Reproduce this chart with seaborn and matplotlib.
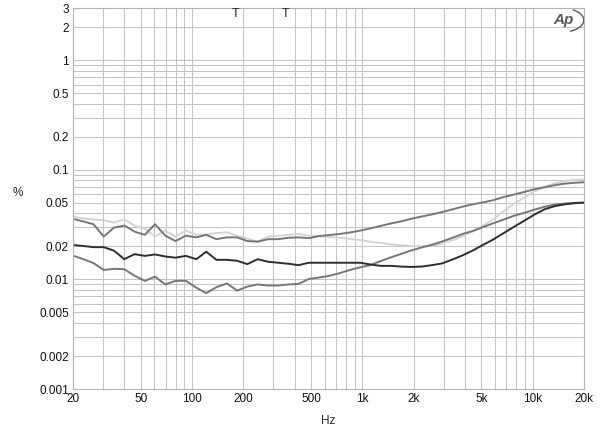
import pandas as pd
import matplotlib
matplotlib.use("Agg")
import matplotlib.pyplot as plt
import seaborn as sns
from matplotlib.ticker import FixedLocator, NullFormatter, LogLocator
from matplotlib.patches import Arc

# частоты (Гц), общие для всех кривых
freq = [20, 23, 26.4, 30.3, 34.8, 40, 46, 52.8, 60.6, 69.6, 80, 92, 106, 121, 139,
        160, 184, 211, 243, 279, 320, 368, 422, 485, 557, 640, 735, 844, 970, 1110,
        1280, 1470, 1690, 1940, 2230, 2560, 2940, 3380, 3880, 4460, 5120, 5880, 6760,
        7760, 8910, 10200, 11800, 13500, 15500, 17800, 20000]

# светлая кривая
thd_light = [0.0374, 0.036, 0.0352, 0.0348, 0.033, 0.0353, 0.031, 0.029, 0.0246, 0.0278,
             0.0246, 0.0279, 0.0255, 0.0258, 0.0265, 0.0269, 0.025, 0.0236, 0.0221, 0.0246,
             0.025, 0.0255, 0.026, 0.025, 0.0248, 0.0244, 0.024, 0.0234, 0.0229, 0.0221,
             0.0215, 0.0209, 0.0205, 0.0202, 0.02, 0.0203, 0.0213, 0.0228, 0.0248, 0.0275,
             0.031, 0.0355, 0.042, 0.049, 0.056, 0.0635, 0.07, 0.0755, 0.0793, 0.081, 0.082]

# верхняя серая
thd_top = [0.0357, 0.0338, 0.0319, 0.0246, 0.0297, 0.031, 0.0273, 0.0255, 0.0319, 0.0251,
           0.0224, 0.0251, 0.0242, 0.0255, 0.0233, 0.0242, 0.0242, 0.0224, 0.0221, 0.0233,
           0.0233, 0.024, 0.0242, 0.0238, 0.0249, 0.0254, 0.026, 0.0268, 0.0279, 0.0292,
           0.0308, 0.0324, 0.0339, 0.0358, 0.0375, 0.0392, 0.0412, 0.0436, 0.0462, 0.0485,
           0.0505, 0.053, 0.0565, 0.0595, 0.0628, 0.0665, 0.0695, 0.0725, 0.075, 0.0763, 0.077]

# тёмная
thd_dark = [0.0206, 0.0202, 0.0197, 0.0197, 0.0183, 0.0153, 0.017, 0.0164, 0.0169, 0.0162,
            0.0158, 0.0164, 0.0153, 0.0179, 0.0151, 0.0151, 0.0148, 0.0138, 0.0153, 0.0145,
            0.0142, 0.0139, 0.0135, 0.0142, 0.0142, 0.0142, 0.0142, 0.0142, 0.0142, 0.0137,
            0.0133, 0.0133, 0.0131, 0.013, 0.0131, 0.0135, 0.014, 0.0152, 0.0166, 0.0184,
            0.0207, 0.0232, 0.0265, 0.0302, 0.0343, 0.039, 0.0438, 0.0467, 0.0485, 0.0497, 0.0503]

# нижняя серая
thd_bottom = [0.0165, 0.0153, 0.0141, 0.0122, 0.0125, 0.0124, 0.0108, 0.0097, 0.0106, 0.009,
              0.0097, 0.0097, 0.0084, 0.0075, 0.0085, 0.0092, 0.0079, 0.0086, 0.009, 0.0088,
              0.0088, 0.009, 0.0091, 0.0101, 0.0104, 0.0108, 0.0114, 0.0122, 0.0129, 0.0135,
              0.0147, 0.0159, 0.0171, 0.0184, 0.0196, 0.0207, 0.0222, 0.024, 0.026, 0.0277,
              0.0301, 0.0326, 0.0352, 0.0381, 0.0405, 0.0433, 0.0461, 0.0482, 0.0493, 0.05, 0.05]

y_ticks = [0.001, 0.002, 0.005, 0.01, 0.02, 0.05, 0.1, 0.2, 0.5, 1, 2, 3]
y_labels = ['0.001', '0.002', '0.005', '0.01', '0.02', '0.05', '0.1', '0.2', '0.5', '1', '2', '3']
x_ticks = [20, 50, 100, 200, 500, 1000, 2000, 5000, 10000, 20000]
x_labels = ['20', '50', '100', '200', '500', '1k', '2k', '5k', '10k', '20k']
t_marks = [180, 355]

df = pd.DataFrame({'Hz': freq, 'light': thd_light, 'top': thd_top,
                   'dark': thd_dark, 'bottom': thd_bottom})
df_long = df.melt(id_vars='Hz', var_name='curve', value_name='thd')

sns.set_style("white")
plt.rcParams['font.family'] = ['Liberation Sans', 'DejaVu Sans']

fig = plt.figure(figsize=(6, 4.33), dpi=100)
ax = fig.add_axes([73 / 600, 1 - 389 / 433, 511 / 600, 381 / 433])
ax.set_xscale('log')
ax.set_yscale('log')

palette = {'light': '#d4d4d4', 'top': '#777777', 'bottom': '#777777', 'dark': '#2e2e2e'}
sns.lineplot(data=df_long, x='Hz', y='thd', hue='curve', palette=palette,
             hue_order=['light', 'top', 'bottom', 'dark'], sort=False,
             linewidth=1.4, legend=False, ax=ax)

ax.set_xlim(20, 20000)
ax.set_ylim(0.001, 3)
ax.xaxis.set_major_locator(FixedLocator(x_ticks))
ax.set_xticklabels(x_labels)
ax.yaxis.set_major_locator(FixedLocator(y_ticks))
ax.set_yticklabels(y_labels)
ax.xaxis.set_minor_locator(LogLocator(subs=range(2, 10)))
ax.yaxis.set_minor_locator(LogLocator(subs=range(2, 10)))
ax.xaxis.set_minor_formatter(NullFormatter())
ax.yaxis.set_minor_formatter(NullFormatter())
ax.tick_params(which='both', length=0, labelsize=8.5, pad=3, colors='#111111')
ax.grid(which='both', color='#c4c4c4', linewidth=0.75)
for s in ax.spines.values():
    s.set_color('#b4b4b4')
    s.set_linewidth(0.8)

ax.set_xlabel('Hz', fontsize=8.5)
ax.set_ylabel('%', fontsize=8.5, rotation=0)
ax.xaxis.set_label_coords(0.499, -0.068)
ax.yaxis.set_label_coords(-0.108, 0.499)

# метки T вверху
for t in t_marks:
    ax.text(t, 0.984, 'T', transform=ax.get_xaxis_transform(), ha='center', va='center',
            fontsize=9)

# логотип AP
ax.text(0.96, 0.968, 'Ap', transform=ax.transAxes, ha='center', va='center',
        fontsize=11, fontstyle='italic', fontweight='bold', color='#5a5a5a')
ax.add_patch(Arc((0.962, 0.968), 0.075, 0.06, theta1=-70, theta2=60,
                 transform=ax.transAxes, color='#5a5a5a', linewidth=1.0))

fig.savefig('out.png', dpi=100)
